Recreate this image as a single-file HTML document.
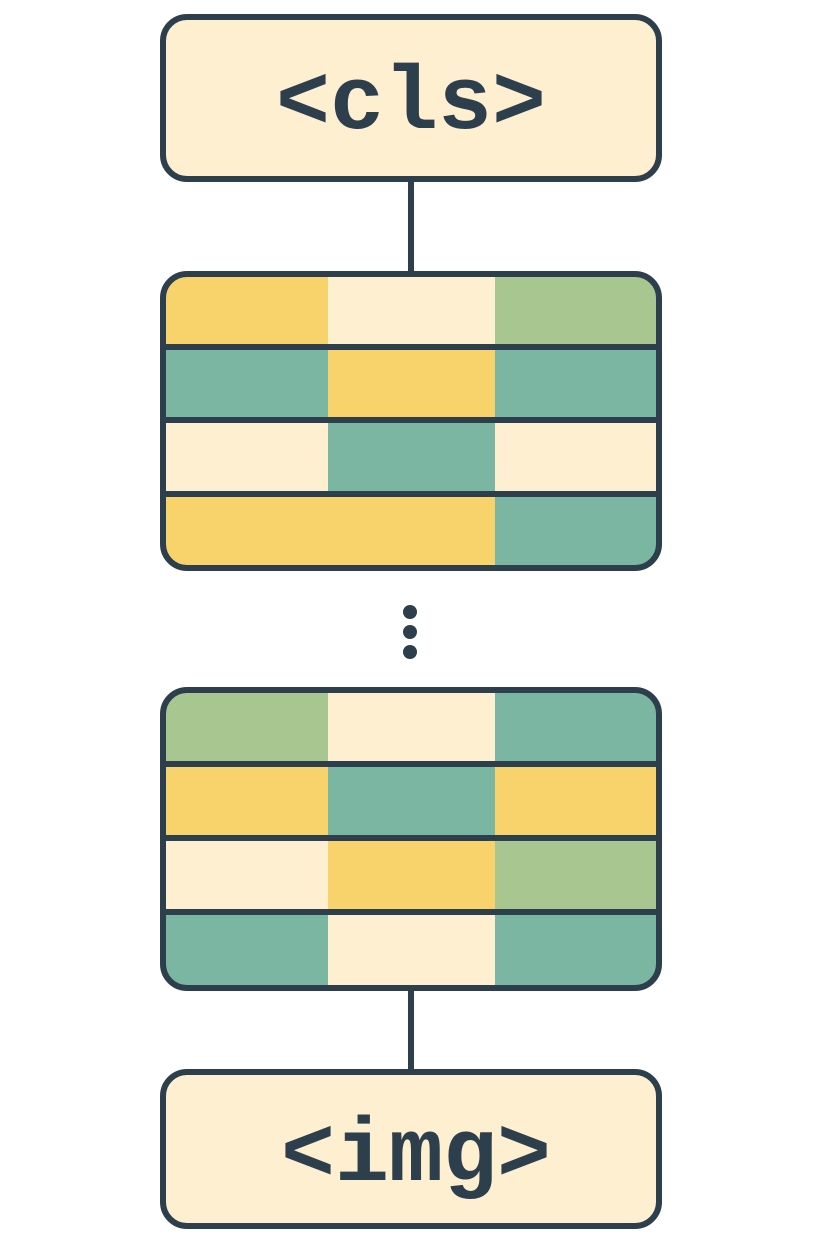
<!DOCTYPE html>
<html><head><meta charset="utf-8"><style>html,body{margin:0;padding:0;background:#fff}svg{display:block}</style></head>
<body>
<svg width="824" height="1249" viewBox="0 0 824 1249" xmlns="http://www.w3.org/2000/svg">
<defs>
<clipPath id="c1"><rect x="164" y="275" width="494" height="292" rx="22"/></clipPath>
<clipPath id="c2"><rect x="164" y="691" width="494" height="296" rx="22"/></clipPath>
</defs>
<g stroke="#2d3e4c" stroke-width="6">
<line x1="411" y1="181" x2="411" y2="272"/>
<line x1="411" y1="990" x2="411" y2="1070"/>
</g>
<rect x="163" y="17" width="496" height="162" rx="24" fill="#fdefd0" stroke="#2d3e4c" stroke-width="6"/>
<text x="411" y="128" text-anchor="middle" font-family="Liberation Mono, monospace" font-weight="bold" font-size="90" fill="#2d3e4c">&lt;cls&gt;</text>

<g clip-path="url(#c1)">
<rect x="161" y="272" width="167" height="75" fill="#f8d36b"/>
<rect x="328" y="272" width="167" height="75" fill="#fdefd0"/>
<rect x="495" y="272" width="166" height="75" fill="#a7c690"/>
<rect x="161" y="347" width="167" height="73" fill="#7ab6a1"/>
<rect x="328" y="347" width="167" height="73" fill="#f8d36b"/>
<rect x="495" y="347" width="166" height="73" fill="#7ab6a1"/>
<rect x="161" y="420" width="167" height="74" fill="#fdefd0"/>
<rect x="328" y="420" width="167" height="74" fill="#7ab6a1"/>
<rect x="495" y="420" width="166" height="74" fill="#fdefd0"/>
<rect x="161" y="494" width="334" height="76" fill="#f8d36b"/>
<rect x="495" y="494" width="166" height="76" fill="#7ab6a1"/>
</g>
<g stroke="#2d3e4c" stroke-width="6">
<line x1="161" y1="347" x2="661" y2="347"/>
<line x1="161" y1="420" x2="661" y2="420"/>
<line x1="161" y1="494" x2="661" y2="494"/>
</g>
<rect x="163" y="274" width="496" height="294" rx="24" fill="none" stroke="#2d3e4c" stroke-width="6"/>

<circle cx="410" cy="612" r="7" fill="#2d3e4c"/>
<circle cx="410" cy="632" r="7" fill="#2d3e4c"/>
<circle cx="410" cy="652" r="7" fill="#2d3e4c"/>

<g clip-path="url(#c2)">
<rect x="161" y="688" width="167" height="76" fill="#a7c690"/>
<rect x="328" y="688" width="167" height="76" fill="#fdefd0"/>
<rect x="495" y="688" width="166" height="76" fill="#7ab6a1"/>
<rect x="161" y="764" width="167" height="74" fill="#f8d36b"/>
<rect x="328" y="764" width="167" height="74" fill="#7ab6a1"/>
<rect x="495" y="764" width="166" height="74" fill="#f8d36b"/>
<rect x="161" y="838" width="167" height="74" fill="#fdefd0"/>
<rect x="328" y="838" width="167" height="74" fill="#f8d36b"/>
<rect x="495" y="838" width="166" height="74" fill="#a7c690"/>
<rect x="161" y="912" width="167" height="78" fill="#7ab6a1"/>
<rect x="328" y="912" width="167" height="78" fill="#fdefd0"/>
<rect x="495" y="912" width="166" height="78" fill="#7ab6a1"/>
</g>
<g stroke="#2d3e4c" stroke-width="6">
<line x1="161" y1="764" x2="661" y2="764"/>
<line x1="161" y1="838" x2="661" y2="838"/>
<line x1="161" y1="912" x2="661" y2="912"/>
</g>
<rect x="163" y="690" width="496" height="298" rx="24" fill="none" stroke="#2d3e4c" stroke-width="6"/>

<rect x="163" y="1072" width="496" height="154" rx="24" fill="#fdefd0" stroke="#2d3e4c" stroke-width="6"/>
<text x="416" y="1180" text-anchor="middle" font-family="Liberation Mono, monospace" font-weight="bold" font-size="90" fill="#2d3e4c">&lt;img&gt;</text>
</svg>
</body></html>
